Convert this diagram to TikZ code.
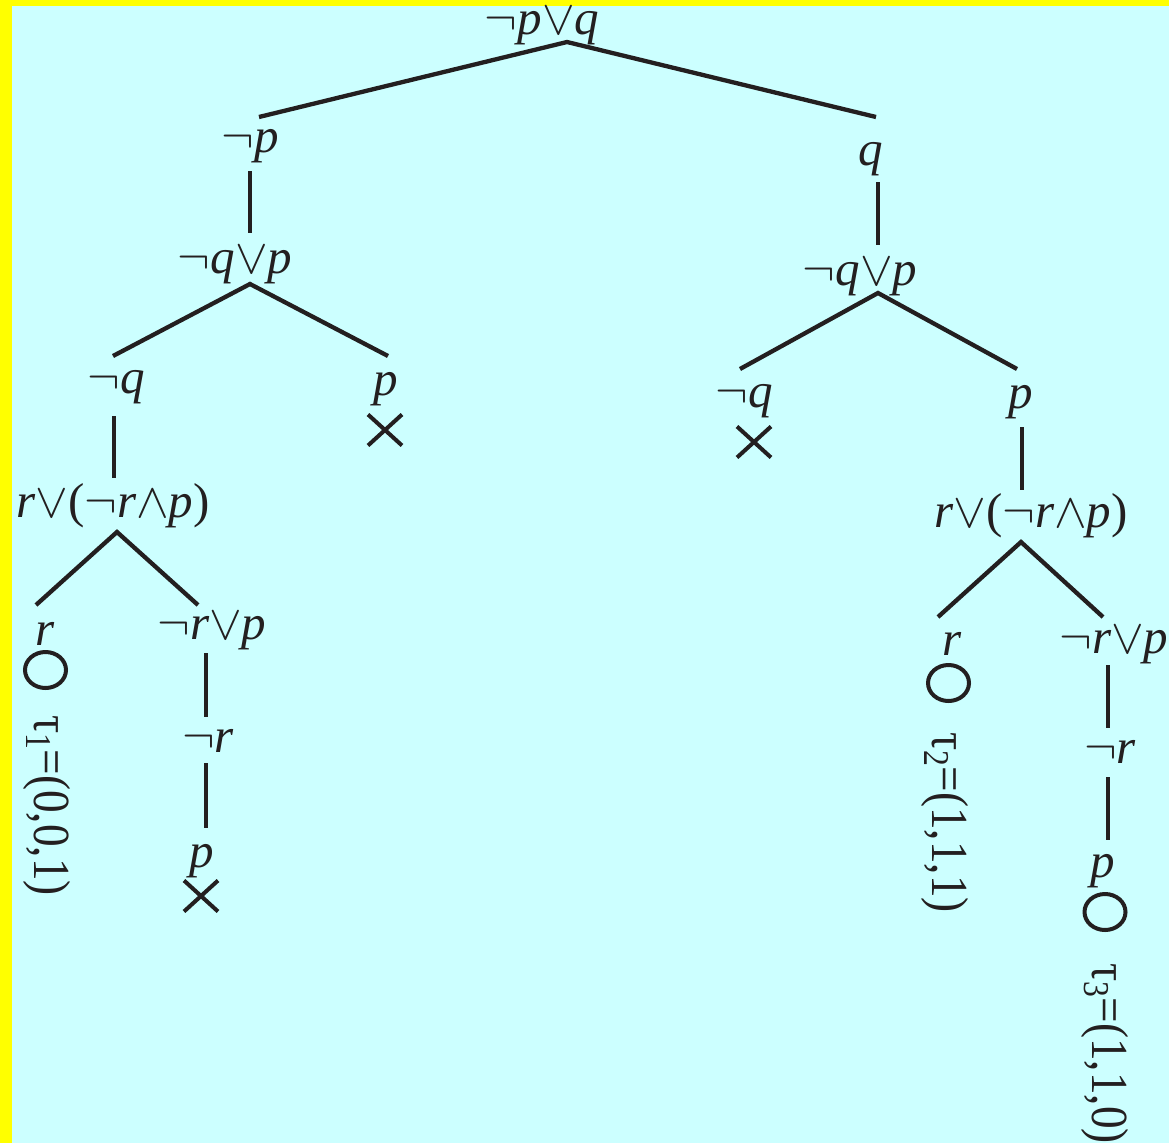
\documentclass[tikz,border=0pt]{standalone}
\usepackage{fix-cm}
\usepackage{fontspec}
\setmainfont{Liberation Serif}
\usetikzlibrary{shapes.geometric,shapes.misc}
\definecolor{bgc}{HTML}{CCFFFF}
\definecolor{bandc}{HTML}{FFFF00}
\definecolor{ink}{HTML}{231F20}
\newcommand\Ng{\ensuremath{\neg}}
\newcommand\Ou{\ensuremath{\vee}}
\newcommand\Et{\ensuremath{\wedge}}
\newcommand\Lp{\textup{(}}
\newcommand\Rp{\textup{)}}
\tikzset{
  formula/.style={inner sep=0pt, anchor=base, text=ink, text height=24pt, text depth=10pt,
    font=\fontsize{49}{58}\selectfont\itshape},
  valuation/.style={inner sep=0pt, anchor=base west, rotate=-90, xscale=0.87, text=ink,
    font=\fontsize{52}{60}\selectfont},
  edge/.style={draw=ink, line width=4.3pt, line join=miter},
  closedmark/.style={cross out, draw=ink, line width=4pt, inner sep=0pt,
    minimum width=30pt, minimum height=27pt},
  openmark/.style={ellipse, draw=ink, line width=4pt, inner sep=0pt,
    minimum width=41pt, minimum height=36pt}
}
\begin{document}
\begin{tikzpicture}[x=1pt,y=-1pt]
\useasboundingbox (0,0) rectangle (1169,1143);
\clip (0,0) rectangle (1169,1143);
\fill[bgc] (0,0) rectangle (1169,1143);
\fill[bandc] (0,0) rectangle (12,1143);
\fill[bandc] (0,0) rectangle (1169,6);

% formulas
\node[formula] (root) at (542,34) {\Ng p\Ou q};
\node[formula] (np) at (250,152) {\Ng p};
\node[formula] (nqpL) at (235,273) {\Ng q\Ou p};
\node[formula] (nqL) at (116,393) {\Ng q};
\node[formula] (pL) at (386,395) {p};
\node[formula] (rfL) at (113,517) {r\Ou\Lp\Ng r\Et p\Rp};
\node[formula] (rL) at (45,645) {r};
\node[formula] (nrpL) at (212,639) {\Ng r\Ou p};
\node[formula] (nrL) at (208,752) {\Ng r};
\node[formula] (pLL) at (202,867) {p};

\node[formula] (q) at (871,165) {q};
\node[formula] (nqpR) at (860,285) {\Ng q\Ou p};
\node[formula] (nqR) at (744,407) {\Ng q};
\node[formula] (pR) at (1021,408) {p};
\node[formula] (rfR) at (1031,527) {r\Ou\Lp\Ng r\Et p\Rp};
\node[formula] (rR) at (952,655) {r};
\node[formula] (nrpR) at (1114,653) {\Ng r\Ou p};
\node[formula] (nrR) at (1110,763) {\Ng r};
\node[formula] (pRR) at (1103,877) {p};

% marks
\node[closedmark] (x1) at (385,430) {};
\node[closedmark] (x2) at (754,442) {};
\node[closedmark] (x3) at (201,896) {};
\node[openmark] (o1) at (45.5,670) {};
\node[openmark] (o2) at (948.5,683) {};
\node[openmark] (o3) at (1105,912) {};

% valuations
\node[valuation] (t1) at (34,715) {τ\textsubscript{1}=(0,0,1)};
\node[valuation] (t2) at (932,732) {τ\textsubscript{2}=(1,1,1)};
\node[valuation] (t3) at (1092,963) {τ\textsubscript{3}=(1,1,0)};

% connector end points
\coordinate (a0) at (567,42);
\coordinate (a0l) at (259,117);
\coordinate (a0r) at (876,117);
\coordinate (v1a) at (250,171);
\coordinate (v1b) at (250,233);
\coordinate (a1) at (250,284);
\coordinate (a1l) at (113,356);
\coordinate (a1r) at (388,356);
\coordinate (v2a) at (114,416);
\coordinate (v2b) at (114,478);
\coordinate (a2) at (117,532);
\coordinate (a2l) at (36,605);
\coordinate (a2r) at (198,605);
\coordinate (v3a) at (206,653);
\coordinate (v3b) at (206,717);
\coordinate (v4a) at (206,763);
\coordinate (v4b) at (206,828);
\coordinate (v5a) at (878,182);
\coordinate (v5b) at (878,245);
\coordinate (a3) at (878,293);
\coordinate (a3l) at (740,369);
\coordinate (a3r) at (1017,369);
\coordinate (v6a) at (1022,427);
\coordinate (v6b) at (1022,490);
\coordinate (a4) at (1021,542);
\coordinate (a4l) at (938,617);
\coordinate (a4r) at (1103,617);
\coordinate (v7a) at (1108,665);
\coordinate (v7b) at (1108,728);
\coordinate (v8a) at (1108,777);
\coordinate (v8b) at (1108,840);

% connectors
\draw[edge] (a0l) -- (a0) -- (a0r);
\draw[edge] (v1a) -- (v1b);
\draw[edge] (a1l) -- (a1) -- (a1r);
\draw[edge] (v2a) -- (v2b);
\draw[edge] (a2l) -- (a2) -- (a2r);
\draw[edge] (v3a) -- (v3b);
\draw[edge] (v4a) -- (v4b);
\draw[edge] (v5a) -- (v5b);
\draw[edge] (a3l) -- (a3) -- (a3r);
\draw[edge] (v6a) -- (v6b);
\draw[edge] (a4l) -- (a4) -- (a4r);
\draw[edge] (v7a) -- (v7b);
\draw[edge] (v8a) -- (v8b);
\end{tikzpicture}
\end{document}
